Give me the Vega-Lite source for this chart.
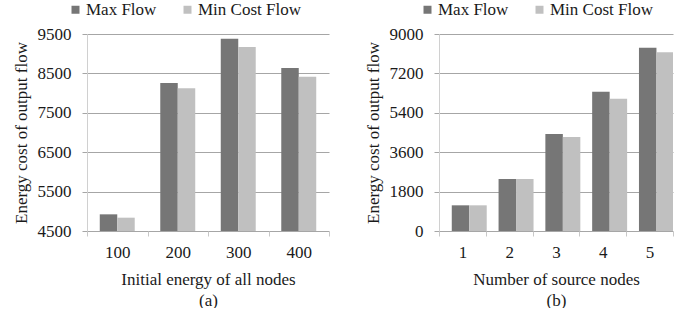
{
  "$schema": "https://vega.github.io/schema/vega-lite/v6.json",
  "padding": {"left": 12, "top": 1, "right": 0, "bottom": 0},
  "background": "white",
  "spacing": 34,
  "config": {
    "view": {"stroke": null},
    "font": "Liberation Serif, Times New Roman, serif",
    "axis": {"labelFont": "Liberation Serif, Times New Roman, serif", "titleFont": "Liberation Serif, Times New Roman, serif", "labelFontSize": 17, "titleFontSize": 17, "labelColor": "#1a1a1a", "titleColor": "#1a1a1a", "titleFontWeight": "normal"},
    "legend": {"labelFont": "Liberation Serif, Times New Roman, serif", "labelFontSize": 17, "labelColor": "#1a1a1a"}
  },
  "datasets": {
    "a": [
      {"energy": "100", "series": "Max Flow", "cost": 4923},
      {"energy": "100", "series": "Min Cost Flow", "cost": 4838},
      {"energy": "200", "series": "Max Flow", "cost": 8256},
      {"energy": "200", "series": "Min Cost Flow", "cost": 8121},
      {"energy": "300", "series": "Max Flow", "cost": 9381},
      {"energy": "300", "series": "Min Cost Flow", "cost": 9170},
      {"energy": "400", "series": "Max Flow", "cost": 8637},
      {"energy": "400", "series": "Min Cost Flow", "cost": 8417}
    ],
    "b": [
      {"sources": "1", "series": "Max Flow", "cost": 1173},
      {"sources": "1", "series": "Min Cost Flow", "cost": 1173},
      {"sources": "2", "series": "Max Flow", "cost": 2376},
      {"sources": "2", "series": "Min Cost Flow", "cost": 2376},
      {"sources": "3", "series": "Max Flow", "cost": 4432},
      {"sources": "3", "series": "Min Cost Flow", "cost": 4295},
      {"sources": "4", "series": "Max Flow", "cost": 6366},
      {"sources": "4", "series": "Min Cost Flow", "cost": 6046},
      {"sources": "5", "series": "Max Flow", "cost": 8376},
      {"sources": "5", "series": "Min Cost Flow", "cost": 8163}
    ]
  },
  "resolve": {"scale": {"color": "independent"}, "legend": {"color": "independent"}},
  "hconcat": [
    {
      "width": 242,
      "height": 197,
      "data": {"name": "a"},
      "mark": {"type": "bar", "clip": true},
      "encoding": {
        "x": {"field": "energy", "type": "ordinal", "scale": {"paddingInner": 0, "paddingOuter": 0},
          "axis": {"labelAngle": 0, "tickBand": "extent", "ticks": true, "tickSize": 5, "tickColor": "#c8c8c8", "domain": false, "labelPadding": 8, "title": ["Initial energy of all nodes", "(a)"], "titlePadding": 11, "titleLineHeight": 21}},
        "xOffset": {"field": "series", "type": "nominal", "sort": ["Max Flow", "Min Cost Flow"], "scale": {"paddingInner": 0, "paddingOuter": 0.73}},
        "y": {"field": "cost", "type": "quantitative", "scale": {"domain": [4500, 9500], "zero": false, "nice": false},
          "axis": {"values": [4500, 5500, 6500, 7500, 8500, 9500], "format": "d", "labelOverlap": false, "title": "Energy cost of output flow", "titlePadding": 7, "labelPadding": 11, "gridColor": "#a6a6a6", "tickColor": "#a6a6a6", "tickSize": 5, "domainColor": "#d0d0d0", "labelFlush": false}},
        "y2": {"datum": 4500},
        "color": {"field": "series", "type": "nominal", "sort": ["Max Flow", "Min Cost Flow"],
          "scale": {"domain": ["Max Flow", "Min Cost Flow"], "range": ["#767676", "#c0c0c0"]},
          "legend": {"orient": "none", "legendX": -20, "legendY": -33, "direction": "horizontal", "title": null, "symbolType": "square", "symbolSize": 64, "columnPadding": 22, "labelOffset": 2, "padding": 0, "symbolStrokeWidth": 0}}
      }
    },
    {
      "width": 234,
      "height": 197,
      "data": {"name": "b"},
      "mark": {"type": "bar", "clip": true},
      "encoding": {
        "x": {"field": "sources", "type": "ordinal", "scale": {"paddingInner": 0, "paddingOuter": 0},
          "axis": {"labelAngle": 0, "tickBand": "extent", "ticks": true, "tickSize": 5, "tickColor": "#c8c8c8", "domain": false, "labelPadding": 8, "title": ["Number of source nodes", "(b)"], "titlePadding": 11, "titleLineHeight": 21}},
        "xOffset": {"field": "series", "type": "nominal", "sort": ["Max Flow", "Min Cost Flow"], "scale": {"paddingInner": 0, "paddingOuter": 0.73}},
        "y": {"field": "cost", "type": "quantitative", "scale": {"domain": [0, 9000], "nice": false},
          "axis": {"values": [0, 1800, 3600, 5400, 7200, 9000], "format": "d", "labelOverlap": false, "title": "Energy cost of output flow", "titlePadding": 7, "labelPadding": 11, "gridColor": "#a6a6a6", "tickColor": "#a6a6a6", "tickSize": 5, "domainColor": "#d0d0d0", "labelFlush": false}},
        "color": {"field": "series", "type": "nominal", "sort": ["Max Flow", "Min Cost Flow"],
          "scale": {"domain": ["Max Flow", "Min Cost Flow"], "range": ["#767676", "#c0c0c0"]},
          "legend": {"orient": "none", "legendX": -20, "legendY": -33, "direction": "horizontal", "title": null, "symbolType": "square", "symbolSize": 64, "columnPadding": 22, "labelOffset": 2, "padding": 0, "symbolStrokeWidth": 0}}
      }
    }
  ]
}
